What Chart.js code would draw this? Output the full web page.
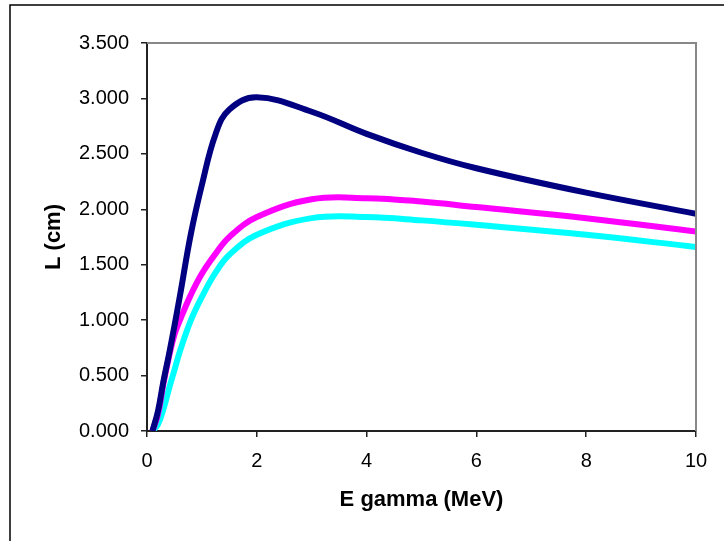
<!DOCTYPE html>
<html>
<head>
<meta charset="utf-8">
<script src="https://cdn.jsdelivr.net/npm/chart.js@4/dist/chart.umd.min.js"></script>
<style>
  html, body { margin: 0; padding: 0; background: #fff; }
  #wrap { width: 724px; height: 541px; }
</style>
</head>
<body>
<div id="wrap"><canvas id="lChart" width="724" height="541"></canvas></div>
<script>
// gamma energies (MeV)
const energies = [0.1, 0.2, 0.3, 0.4, 0.5, 0.6, 0.8, 1, 1.25, 1.5, 2, 3, 4, 5, 6, 8, 10];
// L (cm) for the three series
const navyL    = [0, 0.18, 0.45, 0.69, 0.95, 1.22, 1.78, 2.22, 2.68, 2.90, 3.01, 2.88, 2.68, 2.51, 2.37, 2.15, 1.96];
const magentaL = [0, 0.15, 0.43, 0.67, 0.87, 1.00, 1.23, 1.42, 1.60, 1.75, 1.93, 2.09, 2.10, 2.07, 2.02, 1.92, 1.80];
const cyanL    = [0, 0.06, 0.20, 0.38, 0.55, 0.72, 1.00, 1.21, 1.43, 1.59, 1.77, 1.92, 1.93, 1.90, 1.86, 1.77, 1.66];
const yTicks = [0, 0.5, 1, 1.5, 2, 2.5, 3, 3.5];
const xTicks = [0, 2, 4, 6, 8, 10];

function toPoints(ys) {
    return energies.map((e, i) => ({ x: e, y: ys[i] }));
}

// outer frame + gray top/right border of the plot area
const framePlugin = {
    id: 'frame',
    beforeDraw(chart) {
        const ctx = chart.ctx;
        ctx.save();
        ctx.fillStyle = '#fff';
        ctx.fillRect(0, 0, chart.width, chart.height);
        ctx.strokeStyle = '#000';
        ctx.lineWidth = 1.5;
        ctx.beginPath();
        ctx.moveTo(10, 541);
        ctx.lineTo(10, 5);
        ctx.lineTo(724, 5);
        ctx.stroke();
        ctx.restore();
    },
    afterDraw(chart) {
        const a = chart.chartArea;
        const ctx = chart.ctx;
        ctx.save();
        ctx.strokeStyle = '#888';
        ctx.lineWidth = 2;
        ctx.beginPath();
        ctx.moveTo(a.left, a.top);
        ctx.lineTo(a.right, a.top);
        ctx.lineTo(a.right, a.bottom);
        ctx.stroke();
        ctx.restore();
    }
};

const tickFont = { family: 'Liberation Sans, Arial, sans-serif', size: 20 };
const titleFont = { family: 'Liberation Sans, Arial, sans-serif', size: 22, weight: 'bold' };

const chartData = {
    datasets: [
        { data: toPoints(navyL), borderColor: '#000080' },
        { data: toPoints(magentaL), borderColor: '#ff00ff' },
        { data: toPoints(cyanL), borderColor: '#00ffff' }
    ]
};

const chartConfig = {
    type: 'line',
    data: chartData,
    options: {
        responsive: false,
        animation: false,
        layout: { padding: { top: 43, right: 28, left: 0, bottom: 0 } },
        elements: {
            line: { borderWidth: 6, tension: 0.4, fill: false },
            point: { radius: 0 }
        },
        plugins: { legend: { display: false }, tooltip: { enabled: false } },
        scales: {
            x: {
                type: 'linear',
                min: 0, max: 10,
                afterBuildTicks: (s) => { s.ticks = xTicks.map(v => ({ value: v })); },
                afterFit: (s) => { s.height = 110; },
                grid: { drawOnChartArea: false, tickLength: 6, color: '#222', lineWidth: 1.5 },
                border: { color: '#222', width: 2 },
                ticks: { color: '#000', font: tickFont, padding: 12, maxRotation: 0 },
                title: { display: true, text: 'E gamma (MeV)', color: '#000', font: titleFont, padding: { top: 0, bottom: 28 } }
            },
            y: {
                min: 0, max: 3.5,
                afterBuildTicks: (s) => { s.ticks = yTicks.map(v => ({ value: v })); },
                afterFit: (s) => { s.width = 147; },
                grid: { drawOnChartArea: false, tickLength: 6, color: '#222', lineWidth: 1.5 },
                border: { color: '#222', width: 2 },
                ticks: { color: '#000', font: tickFont, padding: 12, callback: (v) => v.toFixed(3) },
                title: { display: true, text: 'L (cm)', color: '#000', font: titleFont, padding: { top: 41, bottom: 0 } }
            }
        }
    },
    plugins: [framePlugin]
};

const myChart = new Chart(document.getElementById('lChart'), chartConfig);
</script>
</body>
</html>
